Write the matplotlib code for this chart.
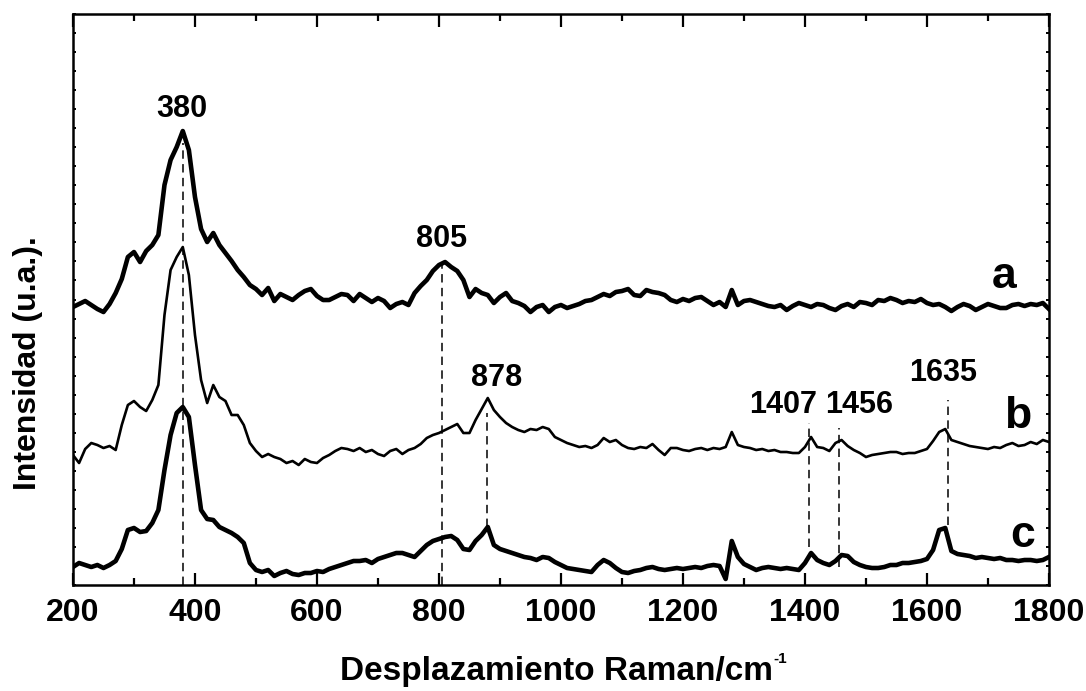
import numpy as np
import matplotlib
matplotlib.use("Agg")
import matplotlib.pyplot as plt
from matplotlib.ticker import MultipleLocator

plt.rcParams['font.family'] = ['Liberation Sans', 'DejaVu Sans']
plt.rcParams['font.weight'] = 'bold'

# Raman shift grid (cm-1), one point every 10 cm-1
shift = np.arange(200, 1801, 10)

# spectrum a (offset already included)
spec_a = [278, 281, 284, 280, 276, 273, 281, 292, 306, 328,
          333, 323, 334, 340, 350, 400, 425, 438, 454, 435,
          388, 356, 343, 352, 340, 332, 324, 315, 308, 300,
          296, 290, 297, 284, 291, 288, 285, 290, 294, 296,
          289, 285, 285, 288, 291, 290, 284, 291, 287, 283,
          287, 284, 277, 281, 283, 280, 292, 299, 305, 314,
          320, 323, 318, 314, 305, 288, 296, 292, 290, 282,
          288, 292, 284, 282, 279, 273, 278, 280, 273, 278,
          280, 277, 279, 281, 284, 285, 288, 291, 289, 293,
          294, 296, 290, 289, 295, 293, 292, 290, 285, 283,
          286, 284, 287, 288, 284, 280, 283, 278, 295, 280,
          284, 285, 283, 281, 279, 278, 280, 275, 279, 282,
          280, 278, 281, 280, 277, 275, 279, 281, 278, 283,
          282, 280, 285, 284, 287, 285, 282, 284, 283, 286,
          282, 280, 281, 278, 274, 278, 281, 279, 275, 278,
          281, 279, 277, 277, 280, 281, 279, 281, 280, 282,
          276]

# spectrum b
spec_b = [130, 122, 136, 142, 140, 137, 139, 135, 160, 180,
          184, 178, 174, 185, 200, 270, 315, 328, 338, 310,
          250, 205, 182, 200, 188, 184, 170, 170, 160, 142,
          134, 128, 131, 128, 126, 122, 124, 120, 126, 123,
          122, 127, 130, 134, 137, 136, 134, 137, 133, 135,
          131, 129, 134, 136, 131, 135, 137, 141, 147, 150,
          152, 155, 158, 161, 152, 152, 165, 176, 187, 175,
          168, 162, 158, 155, 153, 156, 155, 158, 156, 148,
          145, 142, 140, 138, 139, 137, 140, 147, 143, 145,
          140, 137, 136, 138, 137, 141, 135, 130, 137, 137,
          135, 134, 136, 137, 135, 137, 136, 138, 153, 140,
          138, 137, 135, 136, 134, 135, 133, 133, 132, 132,
          138, 148, 138, 137, 134, 142, 145, 139, 135, 132,
          128, 130, 131, 132, 133, 133, 131, 132, 132, 134,
          136, 144, 153, 156, 145, 143, 141, 139, 138, 137,
          136, 138, 137, 140, 142, 139, 140, 143, 141, 145,
          143]

# spectrum c
spec_c = [18, 22, 20, 18, 20, 17, 20, 24, 36, 55,
          57, 53, 54, 62, 75, 115, 150, 172, 178, 168,
          120, 75, 66, 65, 58, 55, 52, 48, 42, 22,
          15, 13, 15, 9, 12, 14, 11, 10, 12, 12,
          14, 13, 16, 18, 20, 22, 24, 24, 25, 22,
          26, 28, 30, 32, 32, 30, 28, 34, 40, 44,
          46, 48, 49, 45, 36, 35, 44, 50, 58, 40,
          36, 34, 32, 30, 28, 27, 25, 28, 27, 23,
          20, 17, 16, 15, 14, 13, 20, 25, 22, 17,
          13, 12, 14, 15, 17, 18, 16, 15, 16, 17,
          16, 17, 18, 17, 19, 20, 19, 6, 44, 28,
          21, 18, 15, 17, 18, 17, 16, 17, 16, 15,
          22, 32, 25, 22, 20, 24, 30, 29, 23, 20,
          18, 17, 17, 18, 20, 20, 22, 22, 23, 24,
          26, 35, 55, 57, 34, 31, 30, 29, 27, 28,
          27, 26, 27, 25, 25, 24, 25, 25, 24, 25,
          28]

# marked bands and the span of their guide lines
bands = [380, 805, 878, 1407, 1456, 1635]
band_lo = [0, 0, 58, 38, 18, 60]
band_hi = [442, 320, 172, 162, 157, 185]
band_lx = [379, 805, 895, 1364, 1489, 1626]
band_ly = [468, 338, 199, 172, 172, 204]

names = ['a', 'b', 'c']
name_x = [1726, 1749, 1757]
name_y = [297, 157, 38]

fig = plt.figure(figsize=(10.86, 6.91), dpi=100)
ax = fig.add_axes([0.0672, 0.1534, 0.8987, 0.8263])

ax.plot(shift, spec_a, color='black', lw=3.3, solid_joinstyle='round')
ax.plot(shift, spec_b, color='black', lw=1.9, solid_joinstyle='round')
ax.plot(shift, spec_c, color='black', lw=3.3, solid_joinstyle='round')

ax.vlines(bands, band_lo, band_hi, colors='black', linestyles=(0, (5.5, 3.5)), lw=1.1)

for b, lx, ly in zip(bands, band_lx, band_ly):
    ax.text(lx, ly, str(b), ha='center', va='baseline', fontsize=22, fontweight='bold')

for n, nx, ny in zip(names, name_x, name_y):
    ax.text(nx, ny, n, ha='center', va='baseline', fontsize=32, fontweight='bold')

ax.set_xlim(200, 1800)
ax.set_ylim(0, 571)
ax.xaxis.set_major_locator(MultipleLocator(200))
ax.xaxis.set_minor_locator(MultipleLocator(100))
ax.yaxis.set_major_locator(MultipleLocator(571 / 30))
ax.set_yticklabels([])

ax.tick_params(axis='x', which='major', direction='in', length=9, width=1.6,
               top=True, labelsize=23, pad=9)
ax.tick_params(axis='x', which='minor', direction='in', length=5, width=1.6, top=True)
ax.tick_params(axis='y', which='major', direction='in', length=2.5, width=1.4, right=True)
for lbl in ax.get_xticklabels():
    lbl.set_fontweight('bold')
for s in ax.spines.values():
    s.set_linewidth(1.8)

# axis titles, with the cm-1 exponent set as a small raised text
fig.text(0.512, 0.016, 'Desplazamiento Raman/cm', ha='center', va='baseline',
         fontsize=24, fontweight='bold')
fig.text(0.7118, 0.041, '-1', ha='left', va='baseline', fontsize=11, fontweight='bold')
fig.text(0.026, 0.475, 'Intensidad (u.a.).', rotation=90, ha='center', va='center',
         fontsize=23, fontweight='bold')

fig.savefig('out.png', dpi=100)
